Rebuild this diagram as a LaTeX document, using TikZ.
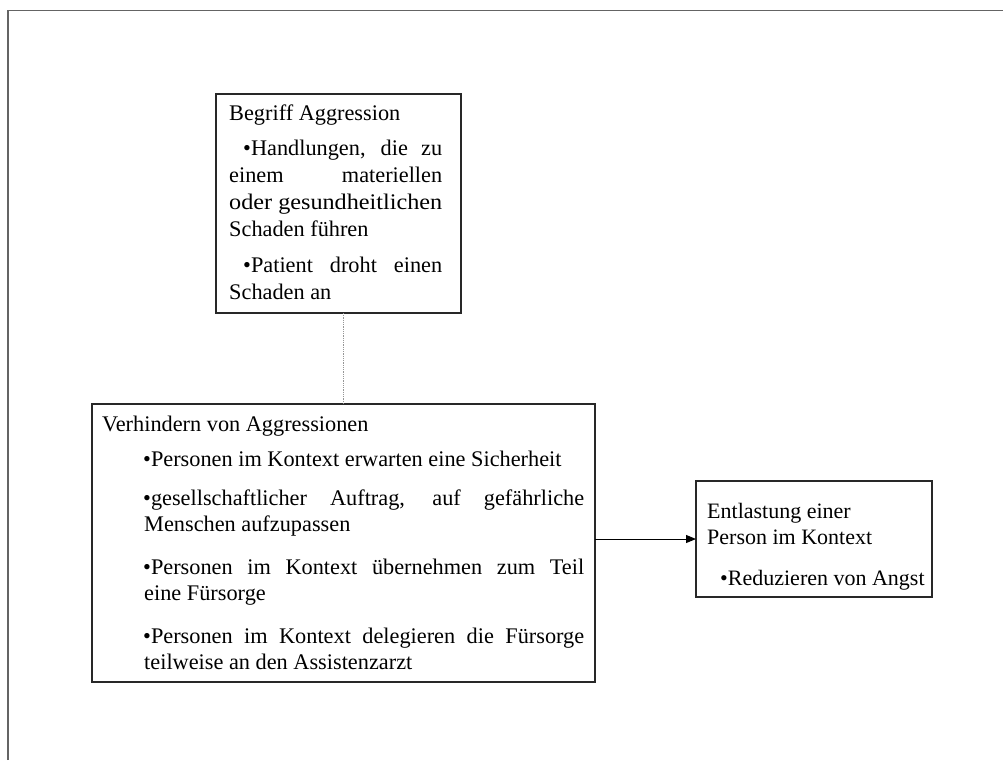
\documentclass[tikz,border=0pt]{standalone}
\usepackage{fontspec}
\usepackage{graphicx}
\setmainfont{Liberation Serif}
\usetikzlibrary{arrows.meta}
\definecolor{framegray}{RGB}{100,100,100}
\definecolor{boxline}{RGB}{40,40,40}
\definecolor{dotgray}{RGB}{150,150,150}
\begin{document}
\begin{tikzpicture}[x=1pt,y=-1pt,
  box/.style={draw=boxline, line width=1.2pt, fill=white, inner sep=0pt, outer sep=0pt},
  txt/.style={inner sep=0pt, anchor=base west},
  dotline/.style={draw=dotgray, line width=1.6pt, dash pattern=on 1pt off 0.8pt},
  arrowline/.style={draw=black, line width=1pt, -{Triangle[length=10pt,width=8pt]}},
  framestyle/.style={draw=framegray}
]
\useasboundingbox (0,0) rectangle (1003,760);
\fill[white] (0,0) rectangle (1003,760);

% page frame
\draw[framestyle, line width=2pt] (8,760) -- (8,10);
\draw[framestyle, line width=1.3pt] (7,10.5) -- (1003,10.5);

% boxes
\node[box, minimum width=245pt, minimum height=219pt] (b1) at (338.5,203.5) {};
\node[box, minimum width=503pt, minimum height=278pt] (b2) at (343.5,543) {};
\node[box, minimum width=236pt, minimum height=116pt] (b3) at (814,539) {};

% connectors
\draw[dotline] (b2.north) -- (b2.north |- b1.south);
\draw[arrowline] (b2.east |- b3.west) -- (b3.west);

% texts
\node[txt] (t1) at (229,120) {\parbox[t]{250pt}{\fontsize{22.3}{27}\selectfont
Begriff Aggression\\[8pt]
\hspace*{14pt}\makebox[199pt][s]{•Handlungen, die zu}\\
\makebox[213pt][s]{einem materiellen}\\
\resizebox{213pt}{\height}{oder gesundheitlichen}\\
Schaden führen\\[9pt]
\hspace*{14pt}\makebox[199pt][s]{•Patient droht einen}\\
Schaden an}};

\node[txt] (t2) at (102,431) {\parbox[t]{490pt}{\fontsize{22.3}{26}\selectfont
Verhindern von Aggressionen\\[9pt]
\hspace*{41pt}•Personen im Kontext erwarten eine Sicherheit\\[13pt]
\hspace*{41pt}\makebox[441pt][s]{•gesellschaftlicher Auftrag, auf gefährliche}\\
\hspace*{42pt}Menschen aufzupassen\\[17pt]
\hspace*{41pt}\makebox[441pt][s]{•Personen im Kontext übernehmen zum Teil}\\
\hspace*{42pt}eine Fürsorge\\[17pt]
\hspace*{41pt}\makebox[441pt][s]{•Personen im Kontext delegieren die Fürsorge}\\
\hspace*{42pt}teilweise an den Assistenzarzt}};

\node[txt] (t3) at (707,518) {\parbox[t]{225pt}{\fontsize{22}{26}\selectfont
Entlastung einer\\
Person im Kontext\\[15pt]
\hspace*{13pt}•Reduzieren von Angst}};
\end{tikzpicture}
\end{document}
